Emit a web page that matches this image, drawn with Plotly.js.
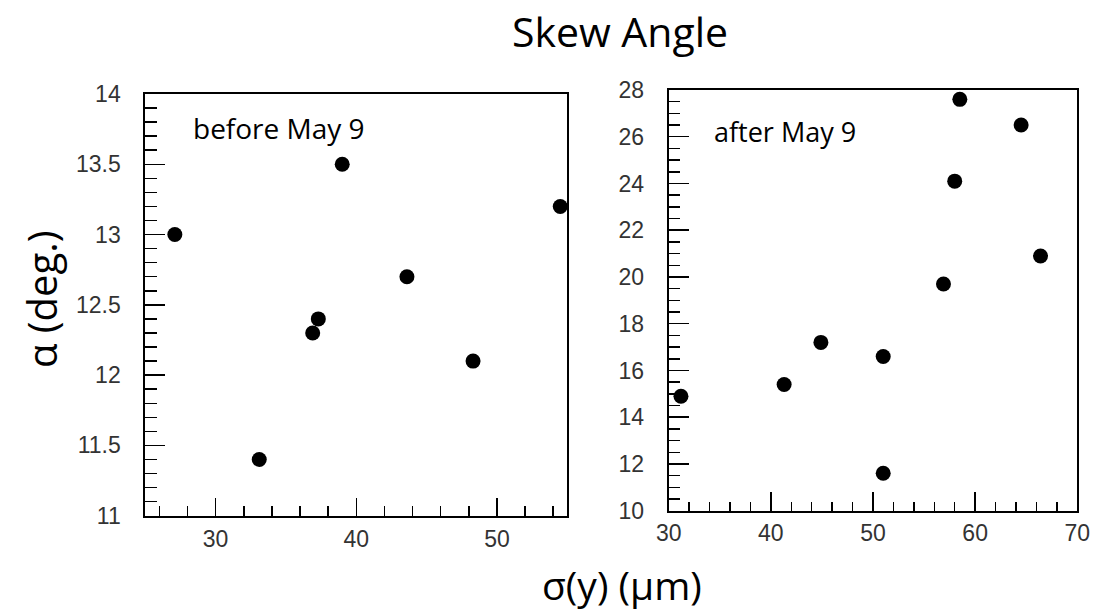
<!DOCTYPE html>
<html>
<head>
<meta charset="utf-8">
<script src="https://cdn.plot.ly/plotly-3.0.1.min.js"></script>
<style>html,body{margin:0;padding:0;background:#fff;}#chart{width:1119px;height:610px;}</style>
</head>
<body>
<div id="chart"></div>
<script>
// Data
const beforeX = [27.1, 33.1, 36.9, 37.3, 39.0, 43.6, 48.3, 54.5];
const beforeY = [13.0, 11.4, 12.3, 12.4, 13.5, 12.7, 12.1, 13.2];
const afterX  = [31.2, 41.3, 44.9, 51.0, 51.0, 56.9, 58.0, 58.5, 64.5, 66.4];
const afterY  = [14.9, 15.4, 17.2, 16.6, 11.6, 19.7, 24.1, 27.6, 26.5, 20.9];

const chartTitle = "Skew Angle";
const xLabel = "σ(y) (μm)";
const yLabel = "α (deg.)";
const leftNote = "before May 9";
const rightNote = "after May 9";

const W = 1119, H = 610;
const px = v => v / W;
const py = v => 1 - v / H;

const tickFont = {family: "Liberation Sans, Arial, sans-serif", size: 23, color: "#333"};
const textFont = (s) => ({family: "Open Sans, sans-serif", size: s, color: "#000"});

function axis(opts) {
  return Object.assign({
    showline: true, mirror: true, linecolor: "#000", linewidth: 2,
    showgrid: false, zeroline: false, ticks: "inside", tickcolor: "#000", tickwidth: 1.5,
    tickfont: tickFont, fixedrange: true
  }, opts);
}

const traces = [
  {x: beforeX, y: beforeY, xaxis: "x", yaxis: "y", type: "scatter", mode: "markers",
   marker: {color: "#000", size: 15, symbol: "circle"}, cliponaxis: false, hoverinfo: "x+y"},
  {x: afterX, y: afterY, xaxis: "x2", yaxis: "y2", type: "scatter", mode: "markers",
   marker: {color: "#000", size: 15, symbol: "circle"}, cliponaxis: false, hoverinfo: "x+y"}
];

const layout = {
  width: W, height: H,
  margin: {l: 0, r: 0, t: 0, b: 0},
  paper_bgcolor: "#fff", plot_bgcolor: "#fff",
  showlegend: false,
  title: {text: chartTitle, font: textFont(41), x: px(620), xanchor: "center", y: py(33), yanchor: "middle"},
  xaxis: axis({domain: [px(145.3), px(567.3)], range: [25, 55], tick0: 0, dtick: 10, ticklen: 18,
    ticklabelstandoff: 2, minor: {ticks: "inside", dtick: 2, tick0: 0, ticklen: 10, tickcolor: "#000", tickwidth: 1.5}, anchor: "y"}),
  yaxis: axis({domain: [py(515.7), py(94)], range: [11, 14], tick0: 0, dtick: 0.5, ticklen: 20,
    ticklabelstandoff: 18, minor: {ticks: "inside", dtick: 0.1, tick0: 0, ticklen: 12, tickcolor: "#000", tickwidth: 1.5}, anchor: "x"}),
  xaxis2: axis({domain: [px(668.7), px(1077.3)], range: [30, 70], tick0: 0, dtick: 10, ticklen: 19,
    ticklabelstandoff: 1, minor: {ticks: "inside", dtick: 2, tick0: 0, ticklen: 9, tickcolor: "#000", tickwidth: 1.5}, anchor: "y2"}),
  yaxis2: axis({domain: [py(510.7), py(90)], range: [10, 28], tick0: 0, dtick: 2, ticklen: 20,
    ticklabelstandoff: 18, minor: {ticks: "inside", dtick: 0.5, tick0: 0, ticklen: 11, tickcolor: "#000", tickwidth: 1.5}, anchor: "x2"}),
  annotations: [
    {text: leftNote, xref: "paper", yref: "paper", x: px(191), y: py(128), xanchor: "left", yanchor: "middle",
     showarrow: false, font: textFont(28)},
    {text: rightNote, xref: "paper", yref: "paper", x: px(712), y: py(131), xanchor: "left", yanchor: "middle",
     showarrow: false, font: textFont(27)},
    {text: xLabel, xref: "paper", yref: "paper", x: px(622), y: py(584), xanchor: "center", yanchor: "middle",
     showarrow: false, font: textFont(39)},
    {text: yLabel, xref: "paper", yref: "paper", x: px(41), y: py(299), xanchor: "center", yanchor: "middle",
     textangle: -90, showarrow: false, font: textFont(40)}
  ]
};

Plotly.newPlot("chart", traces, layout, {displayModeBar: false, staticPlot: true});
</script>
</body>
</html>
